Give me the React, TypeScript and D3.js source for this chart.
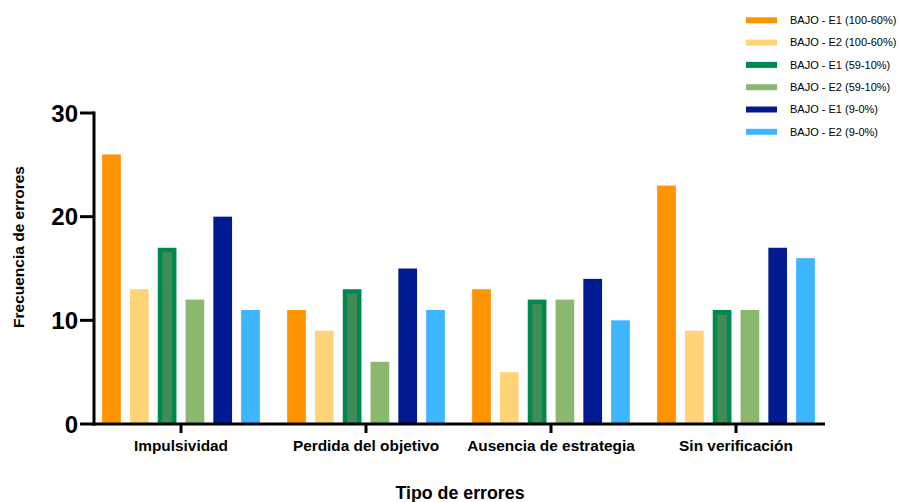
import React from "react";
import * as d3 from "d3";

const categories = ["Impulsividad", "Perdida del objetivo", "Ausencia de estrategia", "Sin verificación"];
const seriesNames = [
  "BAJO - E1 (100-60%)",
  "BAJO - E2 (100-60%)",
  "BAJO - E1 (59-10%)",
  "BAJO - E2 (59-10%)",
  "BAJO - E1 (9-0%)",
  "BAJO - E2 (9-0%)",
];
const serieE1High = [26, 11, 13, 23];
const serieE2High = [13, 9, 5, 9];
const serieE1Mid = [17, 13, 12, 11];
const serieE2Mid = [12, 6, 12, 11];
const serieE1Low = [20, 15, 14, 17];
const serieE2Low = [11, 11, 10, 16];
const seriesValues = [serieE1High, serieE2High, serieE1Mid, serieE2Mid, serieE1Low, serieE2Low];
const colors = ["#FF9300", "#FFD479", "#00894F", "#8BB86F", "#001A8F", "#3DB6FF"];
const yTicks = [0, 10, 20, 30];

export default function App() {
  const W = 899, H = 502;
  const axisLeft = 94, axisRight = 825, y0 = 424;
  const y = d3.scaleLinear().domain([0, 30]).range([y0, 113]);
  const x = d3.scaleBand<string>().domain(categories).range([88.5, 828.5]);
  const inner = d3.scaleBand<string>().domain(seriesNames).range([-83.4, 83.4]).paddingInner(0.327).paddingOuter(0.1635);
  const font = "Liberation Sans, Arial, Helvetica, sans-serif";

  return (
    <svg width={W} height={H} style={{ position: "absolute", left: 0, top: 0, background: "#fff" }} fontFamily={font}>
      {categories.map((c, ci) => {
        const cx = x(c)! + x.bandwidth() / 2;
        return (
          <g key={c}>
            {seriesNames.map((s, si) => {
              const v = seriesValues[si][ci];
              const bx = cx + inner(s)!;
              const bw = inner.bandwidth();
              const by = y(v);
              const bh = y0 - by;
              if (si === 2) {
                const b = 4.5;
                return (
                  <g key={s}>
                    <rect x={bx} y={by} width={bw} height={bh} fill={colors[si]} />
                    <rect x={bx + b} y={by + b} width={bw - 2 * b} height={bh - b} fill="#3F8C56" />
                  </g>
                );
              }
              return <rect key={s} x={bx} y={by} width={bw} height={bh} fill={colors[si]} />;
            })}
            <line x1={cx} x2={cx} y1={y0} y2={y0 + 9} stroke="#000" strokeWidth={3} />
            <text x={cx} y={450.5} textAnchor="middle" fontSize={15.4} fontWeight="bold" fill="#000">{c}</text>
          </g>
        );
      })}
      <line x1={axisLeft} x2={axisLeft} y1={y(30) - 1.5} y2={y0 + 1.5} stroke="#000" strokeWidth={3} />
      <line x1={axisLeft - 1.5} x2={axisRight} y1={y0} y2={y0} stroke="#000" strokeWidth={3} />
      {yTicks.map((t) => (
        <g key={t}>
          <line x1={80} x2={axisLeft} y1={y(t)} y2={y(t)} stroke="#000" strokeWidth={3} />
          <text x={78} y={y(t)} dy="0.36em" textAnchor="end" fontSize={24} fontWeight="bold" fill="#000">{t}</text>
        </g>
      ))}
      <text transform={`translate(24,247) rotate(-90)`} textAnchor="middle" fontSize={15.5} fontWeight="bold" fill="#000">Frecuencia de errores</text>
      <text x={460} y={499} textAnchor="middle" fontSize={17.8} fontWeight="bold" fill="#000">Tipo de errores</text>
      {seriesNames.map((s, i) => {
        const ly = 20.3 + i * 22.3;
        return (
          <g key={s}>
            <rect x={746} y={ly - 3} width={31} height={6} fill={colors[i]} />
            <text x={790} y={ly} dy="0.35em" fontSize={11} fill="#000">{s}</text>
          </g>
        );
      })}
    </svg>
  );
}
